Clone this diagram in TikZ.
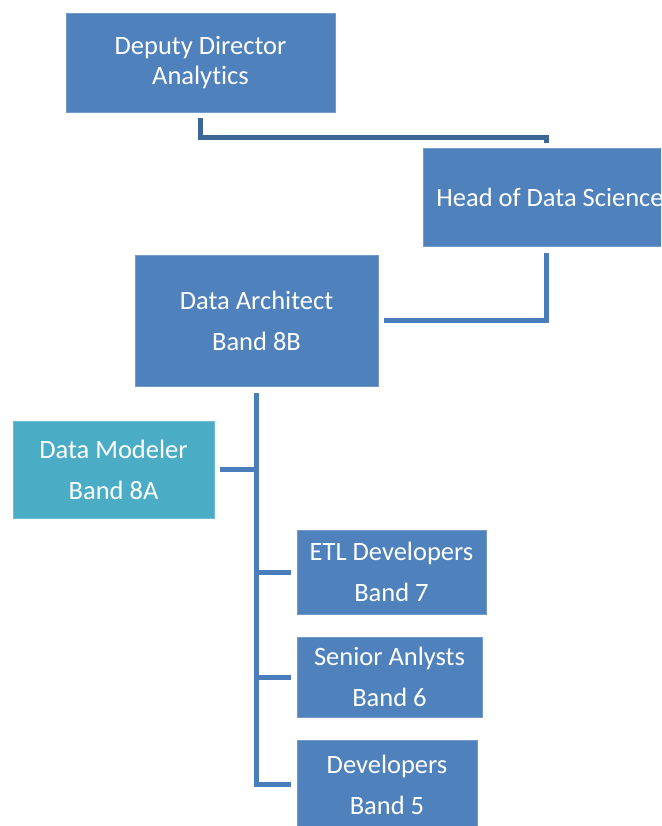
\documentclass[tikz,border=0pt]{standalone}
\usepackage{fontspec}
\setmainfont[Ligatures={NoCommon}]{Carlito}
\usetikzlibrary{calc}
\definecolor{boxblue}{HTML}{4F81BD}
\definecolor{boxteal}{HTML}{4BACC6}
\definecolor{linkblue}{HTML}{4A7EBB}
\definecolor{linkdark}{HTML}{3C6696}
\tikzset{
  post/.style={rectangle, fill=boxblue, draw=boxblue!80!white, line width=0.8pt,
    text=white, align=center, inner sep=0pt,
    font=\fontsize{26.5}{41}\selectfont},
  link/.style={line width=5pt, draw=linkblue, line join=miter},
}
\begin{document}
\begin{tikzpicture}[x=1pt, y=-1pt]

\clip (0,0) rectangle (661,826);

% posts
\node[post, minimum width=269pt, minimum height=99pt, font=\fontsize{26.5}{30}\selectfont]
  (dda) at (200.5,62.5) {Deputy Director\\Analytics};
\node[post, minimum width=254pt, minimum height=98pt] (hds) at (550,197) {\raisebox{-4pt}{Head of Data Science}};
\node[post, minimum width=243pt, minimum height=131pt] (arch) at (256.5,320.5) {Data Architect\\Band 8B};
\node[post, fill=boxteal, draw=boxteal!80!white, minimum width=201pt, minimum height=97pt]
  (mod) at (113.5,469.5) {Data Modeler\\Band 8A};
\node[post, minimum width=189pt, minimum height=84pt] (etl) at (391.5,572) {ETL Developers\\Band 7};
\node[post, minimum width=185pt, minimum height=80pt] (sen) at (389.5,677) {Senior Anlysts\\Band 6};
\node[post, minimum width=180pt, minimum height=89pt] (dev) at (387,784.5) {Developers\\Band 5};

% reporting lines
\draw[link, draw=linkdark] ([yshift=-6pt]dda.south) -- ++(0,19) -| ([xshift=-4pt,yshift=5pt]hds.north);
\draw[link] ([xshift=-4pt,yshift=-7pt]hds.south) |- ([xshift=6pt]arch.east);
\draw[link] ([yshift=-7pt]arch.south) |- ([xshift=-6pt]dev.west);
\draw[link] ([xshift=6pt]mod.east) -- (arch.south |- mod.east);
\draw[link] (arch.south |- etl.west) -- ([xshift=-6pt]etl.west);
\draw[link] (arch.south |- sen.west) -- ([xshift=-6pt]sen.west);

\end{tikzpicture}
\end{document}
